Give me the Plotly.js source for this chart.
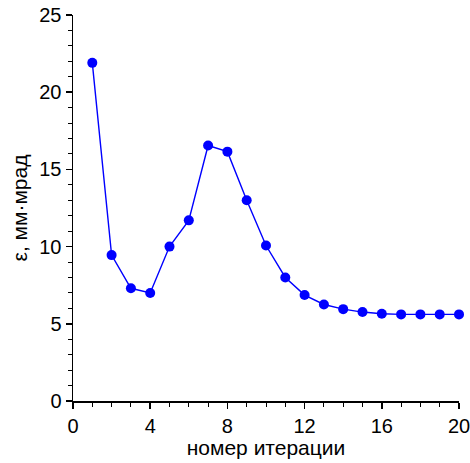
<!DOCTYPE html>
<html><head><meta charset="utf-8">
<script src="https://cdn.plot.ly/plotly-3.0.1.min.js"></script>
<style>html,body{margin:0;padding:0;background:#fff}#g{width:470px;height:463px}</style>
</head><body><div id="g"></div>
<script>
const iterations = [1,2,3,4,5,6,7,8,9,10,11,12,13,14,15,16,17,18,19,20];
const emittance = [21.9,9.45,7.3,7.0,10.0,11.7,16.55,16.15,13.0,10.07,8.0,6.86,6.25,5.95,5.76,5.65,5.61,5.61,5.61,5.61];
const xTicks = [0,4,8,12,16,20];
const yTicks = [0,5,10,15,20,25];

const tickFont = {family: 'Liberation Sans, Arial, sans-serif', size: 20, color: '#000'};
const titleFont = {family: 'Liberation Sans, Arial, sans-serif', size: 21, color: '#000'};
Plotly.newPlot('g', [{
  x: iterations, y: emittance, type: 'scatter', mode: 'lines+markers',
  line: {color: '#0000ff', width: 1.4},
  marker: {color: '#0000ff', size: 10},
  cliponaxis: false
}], {
  width: 470, height: 463,
  margin: {l: 73, r: 11, t: 15, b: 62},
  paper_bgcolor: '#fff', plot_bgcolor: '#fff',
  showlegend: false,
  font: tickFont,
  xaxis: {
    range: [0, 20], tickvals: xTicks, ticktext: xTicks.map(String),
    ticklabeloverflow: 'allow',
    showgrid: false, zeroline: false, showline: true, linecolor: '#000', linewidth: 1.5,
    ticks: 'outside', ticklen: 6, tickwidth: 1.5, tickcolor: '#000',
    minor: {dtick: 1, ticks: 'outside', ticklen: 4, tickwidth: 1, tickcolor: '#000', showgrid: false},
    title: {text: 'номер итерации', font: titleFont, standoff: 2},
    tickfont: tickFont
  },
  yaxis: {
    range: [0, 25], tickvals: yTicks, ticktext: yTicks.map(String),
    ticklabeloverflow: 'allow',
    showgrid: false, zeroline: false, showline: true, linecolor: '#000', linewidth: 1.5,
    ticks: 'outside', ticklen: 6, tickwidth: 1.5, tickcolor: '#000',
    minor: {dtick: 1, ticks: 'outside', ticklen: 4, tickwidth: 1, tickcolor: '#000', showgrid: false},
    title: {text: 'ε, мм·мрад', font: titleFont, standoff: 6},
    tickfont: tickFont
  }
}, {staticPlot: true});
</script></body></html>
